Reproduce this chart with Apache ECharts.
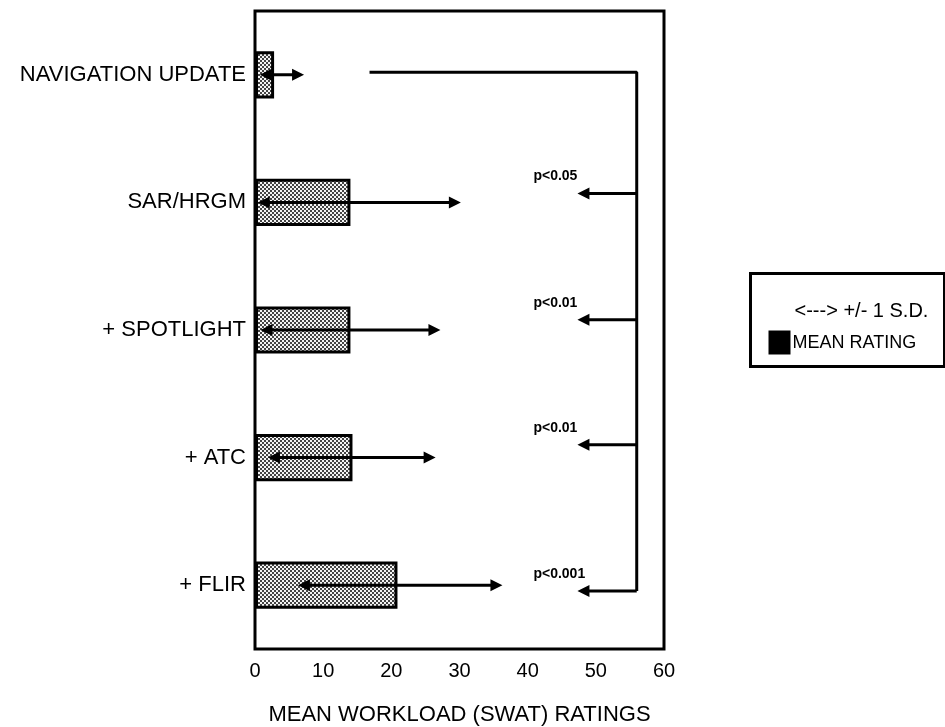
<!DOCTYPE html>
<html>
<head>
<meta charset="utf-8">
<script src="https://cdn.jsdelivr.net/npm/echarts@6/dist/echarts.min.js"></script>
<style>
  html, body { margin: 0; padding: 0; background: #fff; }
  #chart { width: 945px; height: 727px; }
</style>
</head>
<body>
<div id="chart"></div>
<script>
// conditions, top to bottom
const categories = ['NAVIGATION UPDATE', 'SAR/HRGM', '+ SPOTLIGHT', '+ ATC', '+ FLIR'];
// mean SWAT rating per condition
const meanRatings = [2.8, 14.0, 14.0, 14.3, 20.9];
// ends of the +/- 1 S.D. arrows
const sdLow = [0.7, 0.4, 0.8, 1.9, 6.3];
const sdHigh = [7.2, 30.2, 27.2, 26.5, 36.3];
const xTicks = [0, 10, 20, 30, 40, 50, 60];

// significance bracket (y in category units, 0 = top edge)
const bracketStartX = 16.8;
const bracketX = 56;
const bracketTopY = 0.48;
const pLabels = ['p<0.05', 'p<0.01', 'p<0.01', 'p<0.001'];
const pArrowY = [1.43, 2.42, 3.40, 4.545];
const pArrowTipX = 47.3;

const FONT = 'Liberation Sans';

// dotted fill for the bars
const pat = document.createElement('canvas');
pat.width = 4; pat.height = 4;
const pctx = pat.getContext('2d');
pctx.fillStyle = '#f4f4f4';
pctx.fillRect(0, 0, 4, 4);
pctx.fillStyle = '#444';
pctx.fillRect(0, 0, 2, 2);
pctx.fillRect(2, 2, 2, 2);

function arrowHead(tip, dir) {
  // dir = -1 points left, 1 points right
  const len = 12, half = 6;
  return {
    type: 'polygon',
    shape: { points: [[tip[0], tip[1]], [tip[0] - dir * len, tip[1] - half], [tip[0] - dir * len, tip[1] + half]] },
    style: { fill: '#000' }
  };
}

const sdData = categories.map((c, i) => [i, sdLow[i], sdHigh[i]]);
const pData = pLabels.map((p, i) => [bracketX, pArrowTipX, pArrowY[i], p]);

const myChart = echarts.init(document.getElementById('chart'));
const option = {
  animation: false,
  textStyle: { fontFamily: FONT },
  grid: {
    left: 255, right: 281, top: 11, bottom: 78,
    outerBoundsMode: 'none',
    containLabel: false,
    show: true, borderColor: '#000', borderWidth: 3, backgroundColor: '#fff'
  },
  xAxis: {
    type: 'value',
    min: xTicks[0], max: xTicks[xTicks.length - 1], interval: 10,
    axisLine: { show: false },
    axisTick: { show: false },
    splitLine: { show: false },
    axisLabel: { color: '#000', fontSize: 20, fontFamily: FONT, margin: 12 },
    name: 'MEAN WORKLOAD (SWAT) RATINGS',
    nameLocation: 'middle',
    nameGap: 55,
    nameTextStyle: { color: '#000', fontSize: 22, fontFamily: FONT }
  },
  yAxis: [
    {
      type: 'category',
      data: categories,
      inverse: true,
      axisLine: { show: false },
      axisTick: { show: false },
      axisLabel: { color: '#000', fontSize: 22, fontFamily: FONT, margin: 9 }
    },
    {
      type: 'value',
      min: 0, max: categories.length,
      inverse: true,
      position: 'left',
      show: false
    }
  ],
  series: [
    {
      name: 'MEAN RATING',
      type: 'bar',
      data: meanRatings,
      barWidth: '37%',
      itemStyle: { color: { image: pat, repeat: 'repeat' }, borderColor: '#000', borderWidth: 3 },
      z: 2
    },
    {
      name: '+/- 1 S.D.',
      type: 'custom',
      data: sdData,
      encode: { x: [1, 2], y: 0 },
      z: 3,
      renderItem: function (params, api) {
        const a = api.coord([api.value(1), api.value(0)]);
        const b = api.coord([api.value(2), api.value(0)]);
        return {
          type: 'group',
          children: [
            { type: 'line', shape: { x1: a[0] + 6, y1: a[1], x2: b[0] - 6, y2: b[1] }, style: { stroke: '#000', lineWidth: 3 } },
            arrowHead(a, -1),
            arrowHead(b, 1)
          ]
        };
      }
    },
    {
      name: 'bracket',
      type: 'line',
      yAxisIndex: 1,
      data: [[bracketStartX, bracketTopY], [bracketX, bracketTopY], [bracketX, pArrowY[pArrowY.length - 1]]],
      symbol: 'none',
      lineStyle: { color: '#000', width: 3 },
      z: 3
    },
    {
      name: 'significance',
      type: 'custom',
      yAxisIndex: 1,
      data: pData,
      encode: { x: [0, 1], y: 2 },
      z: 3,
      renderItem: function (params, api) {
        const a = api.coord([api.value(0), api.value(2)]);
        const b = api.coord([api.value(1), api.value(2)]);
        return {
          type: 'group',
          children: [
            { type: 'line', shape: { x1: a[0], y1: a[1], x2: b[0] + 6, y2: b[1] }, style: { stroke: '#000', lineWidth: 3 } },
            arrowHead(b, -1),
            {
              type: 'text',
              style: {
                text: pData[params.dataIndex][3],
                x: b[0] - 44, y: b[1] - 17,
                fill: '#000', font: 'bold 14px "' + FONT + '"',
                verticalAlign: 'middle', align: 'left'
              }
            }
          ]
        };
      }
    }
  ],
  graphic: [
    {
      type: 'group',
      left: 749, top: 272,
      children: [
        { type: 'rect', shape: { x: 0, y: 0, width: 194, height: 93 }, style: { fill: '#fff', stroke: '#000', lineWidth: 3 } },
        { type: 'text', style: { x: 44, y: 38, text: '<---> +/- 1 S.D.', font: '20px "' + FONT + '"', fill: '#000', verticalAlign: 'middle' } },
        { type: 'rect', shape: { x: 18, y: 57, width: 22, height: 24 }, style: { fill: '#000' } },
        { type: 'text', style: { x: 42, y: 70, text: 'MEAN RATING', font: '18px "' + FONT + '"', fill: '#000', verticalAlign: 'middle' } }
      ]
    }
  ]
};
myChart.setOption(option);
window.addEventListener('resize', function () {
  myChart.resize();
});
</script>
</body>
</html>
